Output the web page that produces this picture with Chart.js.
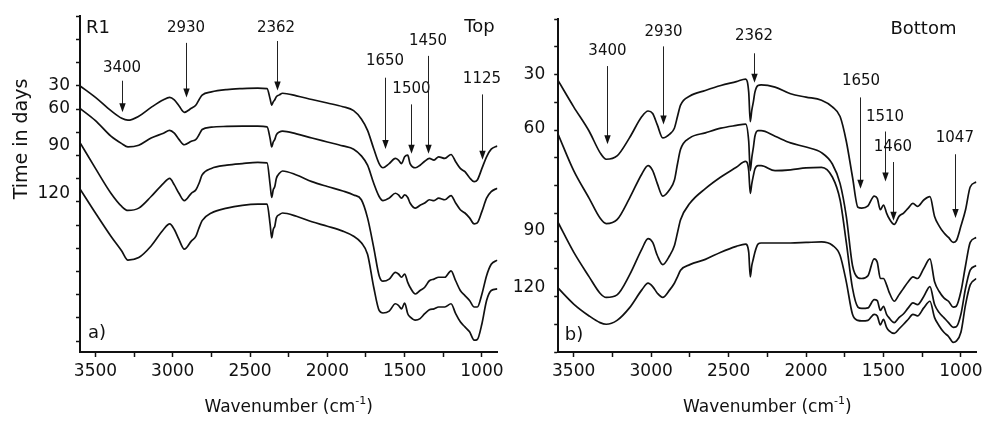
<!DOCTYPE html>
<html><head><meta charset="utf-8">
<script src="https://cdn.jsdelivr.net/npm/chart.js@4"></script>
<style>
html,body{margin:0;padding:0;background:#fff;}
#wrap{position:relative;width:983px;height:423px;overflow:hidden;}
.box{position:absolute;top:0;height:423px;}
canvas{display:block;}
</style></head><body>
<div id="wrap">
<div class="box" style="left:0;width:520px"><canvas id="cA" width="520" height="423"></canvas></div>
<div class="box" style="left:500px;width:483px"><canvas id="cB" width="483" height="423"></canvas></div>
</div>
<script>
// ---- shared wavenumber grid (cm-1) ----
const wavenumbers = [3600,3500,3400,3330,3290,3220,3140,3060,3020,2990,2960,2925,2880,2850,2830,2810,2750,2650,2550,2450,2390,2370,2360,2350,2340,2330,2310,2290,2200,2100,2000,1900,1830,1780,1740,1700,1665,1640,1600,1560,1540,1520,1500,1480,1465,1430,1400,1370,1340,1310,1280,1240,1200,1170,1140,1110,1080,1050,1030,1000,970,940,900];

// ---- panel a) Top (offset transmittance, a.u.) ----
const top30 = [11.00,10.50,9.93,9.60,9.52,9.69,10.07,10.40,10.50,10.39,10.14,9.86,10.03,10.17,10.40,10.60,10.74,10.84,10.88,10.90,10.88,10.43,10.17,10.31,10.40,10.53,10.61,10.68,10.57,10.41,10.26,10.10,9.93,9.57,9.08,8.29,7.65,7.47,7.65,7.87,7.80,7.65,7.94,8.01,7.65,7.47,7.58,7.75,7.87,7.80,7.94,7.87,8.04,7.73,7.44,7.30,7.04,6.87,6.94,7.44,7.94,8.27,8.41];
const top60 = [10.03,9.50,8.83,8.51,8.37,8.44,8.75,8.96,9.08,8.96,8.69,8.46,8.61,8.69,8.89,9.12,9.22,9.25,9.26,9.26,9.23,8.72,8.37,8.58,8.69,8.89,9.01,9.05,8.93,8.75,8.58,8.41,8.27,7.98,7.58,6.80,6.23,6.05,6.16,6.37,6.30,6.16,6.30,6.19,5.95,5.73,5.85,5.95,6.09,6.05,6.16,6.09,6.27,5.95,5.66,5.52,5.31,5.05,5.09,5.59,6.16,6.44,6.59];
const top90 = [8.55,7.44,6.37,5.80,5.63,5.73,6.23,6.80,7.01,6.73,6.37,6.05,6.37,6.52,6.80,7.16,7.44,7.58,7.65,7.70,7.68,6.73,6.19,6.52,6.66,7.01,7.23,7.33,7.16,6.87,6.66,6.47,6.30,6.09,5.31,4.03,2.82,2.58,2.67,2.96,2.89,2.75,2.89,2.53,2.32,2.03,2.18,2.32,2.60,2.67,2.75,2.75,3.03,2.60,2.18,1.96,1.75,1.47,1.47,2.03,2.82,3.31,3.49];
const top120 = [6.56,5.52,4.52,3.88,3.49,3.60,4.10,4.81,5.05,4.81,4.38,3.96,4.31,4.52,4.88,5.19,5.52,5.73,5.85,5.90,5.90,5.02,4.45,4.81,4.95,5.31,5.45,5.52,5.38,5.14,4.95,4.74,4.52,4.24,3.74,2.32,1.32,1.21,1.29,1.61,1.54,1.39,1.64,1.18,1.04,0.90,0.97,1.18,1.35,1.39,1.47,1.47,1.61,1.18,0.83,0.61,0.40,0.04,0.07,0.75,1.75,2.18,2.25];

// ---- panel b) Bottom ----
const bot30 = [9.78,8.84,7.96,7.19,6.95,7.07,7.72,8.49,8.69,8.60,8.19,7.72,7.86,8.07,8.49,8.90,9.23,9.43,9.61,9.75,9.84,9.37,8.31,8.72,9.02,9.37,9.61,9.63,9.55,9.31,9.19,9.08,8.84,8.49,7.60,6.31,5.22,5.19,5.27,5.62,5.54,5.13,5.30,5.01,4.83,4.60,4.89,5.01,5.19,5.36,5.25,5.48,5.60,4.89,4.54,4.30,4.13,3.95,4.01,4.54,5.13,5.95,6.13];
const bot60 = [7.84,6.54,5.54,4.83,4.63,4.77,5.54,6.42,6.72,6.54,6.07,5.62,5.86,6.19,6.78,7.31,7.72,7.90,8.07,8.17,8.22,7.60,6.54,7.01,7.37,7.78,7.98,7.98,7.78,7.54,7.39,7.19,6.78,6.07,4.89,3.12,2.68,2.65,2.75,3.36,3.24,2.65,2.65,2.42,2.18,1.83,2.06,2.30,2.53,2.71,2.65,3.01,3.36,2.53,2.18,1.95,1.83,1.62,1.65,2.18,3.12,3.95,4.13];
const bot90 = [4.66,3.60,2.71,2.12,1.97,2.06,2.77,3.71,4.09,3.95,3.48,3.15,3.48,3.83,4.30,4.77,5.36,5.89,6.31,6.66,6.87,6.54,5.72,6.07,6.36,6.60,6.72,6.72,6.54,6.57,6.64,6.66,6.31,5.48,3.95,2.30,1.62,1.57,1.59,1.89,1.85,1.50,1.65,1.36,1.24,1.06,1.24,1.38,1.59,1.77,1.71,2.00,2.36,1.71,1.42,1.24,1.06,0.89,0.91,1.36,2.30,2.95,3.12];
const bot120 = [2.30,1.73,1.30,1.06,1.00,1.14,1.59,2.24,2.48,2.36,2.12,1.97,2.24,2.48,2.71,2.95,3.15,3.34,3.60,3.81,3.89,3.60,2.71,3.12,3.36,3.60,3.89,3.93,3.93,3.93,3.95,3.97,3.85,3.48,2.53,1.36,1.14,1.12,1.14,1.36,1.30,0.98,1.18,0.89,0.77,0.67,0.83,1.00,1.18,1.36,1.30,1.59,1.83,1.24,0.94,0.71,0.56,0.35,0.39,0.71,1.71,2.42,2.65];

// ---- axis ticks and labels ----
const xTickValues = [1000,1250,1500,1750,2000,2250,2500,2750,3000,3250,3500];
const dayLabels = ['30','60','90','120'];
const topDayPos = [11, 10, 8.44, 6.37];
const botDayPos = [10, 8.04, 4.37, 2.32];

// ---- peak annotations: [label, labelX, labelY, arrowX, arrowY1, arrowY2] ----
const topPeaks = [
  ['3400',3328,11.78,3330,11.22,9.86],
  ['2930',2914,13.49,2914,12.85,10.50],
  ['2362',2332,13.49,2328,12.93,10.80],
  ['1650',1627,12.08,1627,11.35,8.28],
  ['1500',1456,10.84,1457,10.20,8.07],
  ['1450',1349,12.93,1351,12.29,8.07],
  ['1125',1000,11.27,1002,10.63,7.81]
];
const botPeaks = [
  ['3400',3282,10.85,3283,10.31,7.49],
  ['2930',2920,11.55,2921,11.02,8.20],
  ['2362',2336,11.38,2336,10.77,9.71],
  ['1650',1645,9.75,1650,9.18,5.89],
  ['1510',1490,8.48,1488,7.95,6.15],
  ['1460',1439,7.38,1439,6.85,4.73],
  ['1047',1039,7.73,1040,7.13,4.83]
];
const topTexts = [['R1',3484,13.49],['Top',1016,13.53],['a)',3490,0.33]];
const botTexts = [['Bottom',1242,11.62],['b)',3498,0.59]];

const FONT = 'DejaVu Sans';
const INK = '#111';

function pts(ys){ return wavenumbers.map((w,i)=>({x:w,y:ys[i]})); }

function makePanel(id, series, yMin, yMax, dayPos, peaks, texts, pad, yAxisW, labelPad, showYTitle){
  const intTicks = [];
  for(let v=0; v<=yMax; v++) intTicks.push(v);
  const isLab = v => dayPos.findIndex(p=>Math.abs(p-v)<1e-6);
  const annot = {
    id:'annot'+id,
    afterDraw(chart){
      const {ctx, chartArea:ca} = chart;
      const xs = chart.scales.x, ys = chart.scales.y;
      ctx.save();
      ctx.fillStyle = INK; ctx.strokeStyle = '#222';
      ctx.textAlign='center'; ctx.textBaseline='middle';
      ctx.font = '15px "'+FONT+'"';
      peaks.forEach(p=>{
        const lx = xs.getPixelForValue(p[1]), ly = ys.getPixelForValue(p[2]);
        ctx.fillText(p[0], lx, ly);
        const ax = Math.round(xs.getPixelForValue(p[3]))+0.5;
        const y1 = ys.getPixelForValue(p[4]), y2 = ys.getPixelForValue(p[5]);
        ctx.lineWidth = 1;
        ctx.beginPath(); ctx.moveTo(ax,y1); ctx.lineTo(ax,y2-6); ctx.stroke();
        ctx.beginPath(); ctx.moveTo(ax-3.2,y2-9); ctx.lineTo(ax+3.2,y2-9); ctx.lineTo(ax,y2); ctx.closePath(); ctx.fill();
      });
      ctx.font = '18px "'+FONT+'"';
      texts.forEach(t=>{
        ctx.fillText(t[0], xs.getPixelForValue(t[1]), ys.getPixelForValue(t[2]));
      });
      // x-axis title with superscript
      const cx = (ca.left+ca.right)/2, ty = 408;
      ctx.font = '17px "'+FONT+'"';
      const main = 'Wavenumber (cm', close = ')';
      const wMain = ctx.measureText(main).width, wClose = ctx.measureText(close).width;
      ctx.font = '11px "'+FONT+'"';
      const sup = '-1'; const wSup = ctx.measureText(sup).width;
      const total = wMain + wSup + wClose;
      let x0 = cx - total/2;
      ctx.textAlign='left';
      ctx.font = '17px "'+FONT+'"';
      ctx.fillText(main, x0, ty);
      ctx.font = '11px "'+FONT+'"';
      ctx.fillText(sup, x0+wMain, ty-7);
      ctx.font = '17px "'+FONT+'"';
      ctx.fillText(close, x0+wMain+wSup, ty);
      if(showYTitle){
        ctx.save();
        ctx.translate(22, 139);
        ctx.rotate(-Math.PI/2);
        ctx.textAlign='center';
        ctx.font = '19px "'+FONT+'"';
        ctx.fillText('Time in days', 0, 0);
        ctx.restore();
      }
      ctx.restore();
    }
  };
  return new Chart(document.getElementById(id), {
    type:'line',
    data:{datasets: series.map(s=>({data:pts(s), borderColor:INK, borderWidth:1.7, pointRadius:0, cubicInterpolationMode:'monotone', fill:false}))},
    options:{
      responsive:false, animation:false,
      layout:{padding:pad},
      plugins:{legend:{display:false}, tooltip:{enabled:false}},
      scales:{
        x:{type:'linear', reverse:true, min:900, max:3600,
          afterBuildTicks:s=>{ s.ticks = xTickValues.map(v=>({value:v})); },
          ticks:{autoSkip:false, maxRotation:0, minRotation:0, padding:4, color:INK,
            font:{family:FONT,size:17}, callback:v=> (v%500===0 ? String(v) : '')},
          grid:{drawOnChartArea:false, tickLength:5, tickColor:INK, tickWidth:1.5},
          border:{color:INK, width:2},
          afterFit:s=>{ s.height = 71; }
        },
        y:{type:'linear', min:yMin, max:yMax,
          afterBuildTicks:s=>{
            const all = intTicks.slice();
            dayPos.forEach(p=>{ if(!all.some(v=>Math.abs(v-p)<1e-6)) all.push(p); });
            all.sort((a,b)=>a-b);
            s.ticks = all.map(v=>({value:v}));
          },
          ticks:{autoSkip:false, padding:labelPad, color:INK, font:{family:FONT,size:17},
            callback:v=>{ const k=isLab(v); return k>=0 ? dayLabels[k] : ''; }},
          grid:{drawOnChartArea:false, tickLength:4, tickWidth:1.5,
            tickColor:c=> (c.tick && Number.isInteger(c.tick.value)) ? INK : 'rgba(0,0,0,0)'},
          border:{color:INK, width:2},
          afterFit:s=>{ s.width = yAxisW; }
        }
      }
    },
    plugins:[annot]
  });
}

makePanel('cA', [top30,top60,top90,top120], -0.47, 14, topDayPos, topPeaks, topTexts,
  {left:0,right:22.6,top:13,bottom:0}, 80, 6, true);
makePanel('cB', [bot30,bot60,bot90,bot120], 0, 12, botDayPos, botPeaks, botTexts,
  {left:0,right:6.6,top:12.3,bottom:0}, 58.2, 9, false);
</script>
</body></html>
